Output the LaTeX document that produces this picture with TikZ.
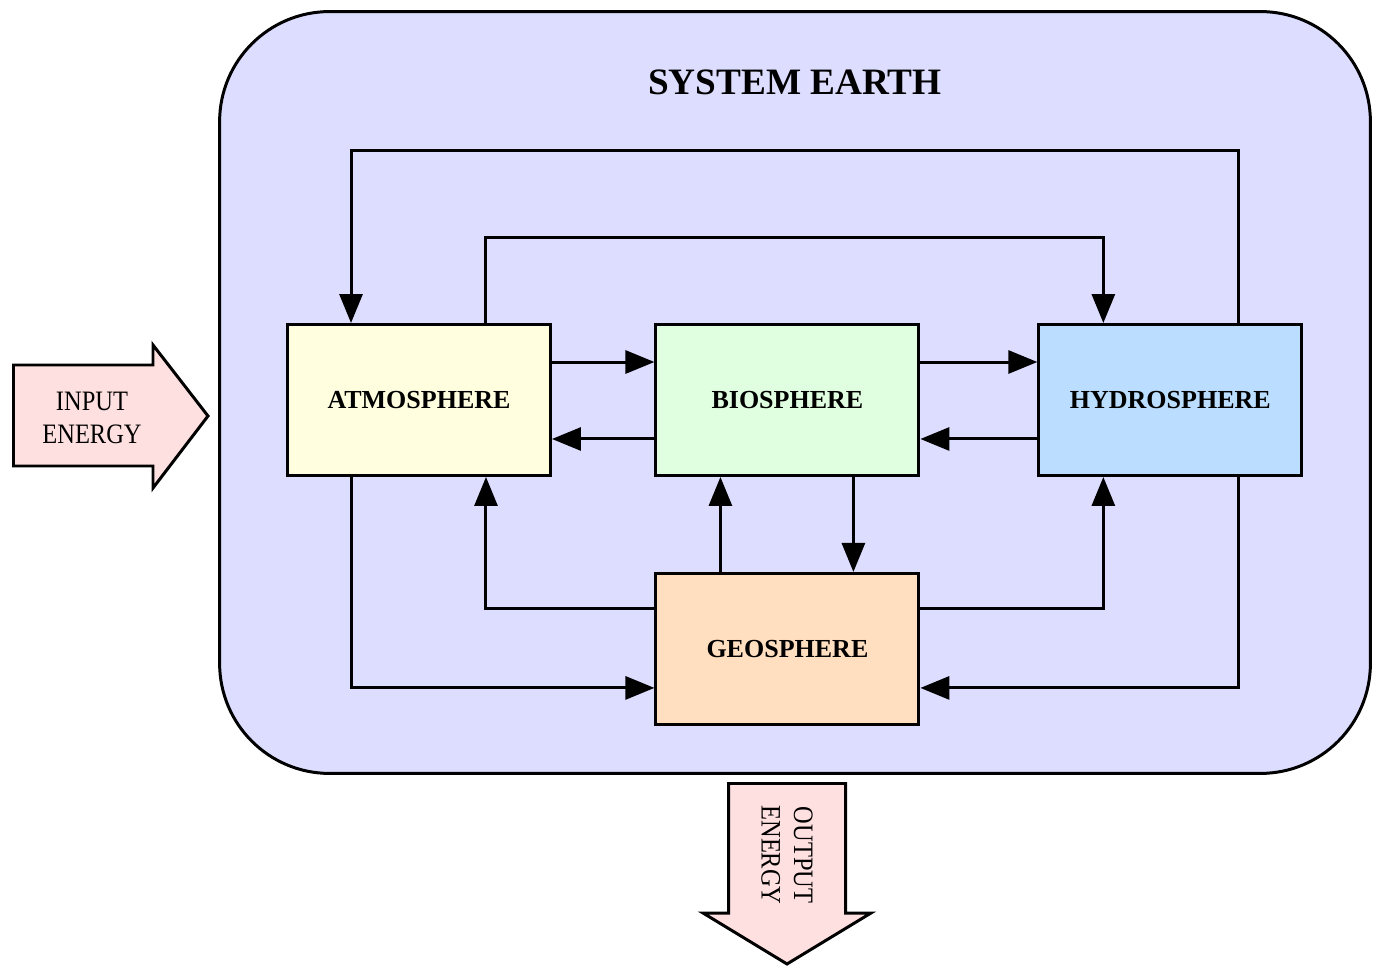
\documentclass[tikz,border=0pt]{standalone}
\usepackage{fontspec}
\setmainfont{Liberation Serif}
\newfontfamily\narrowserif[FakeStretch=0.87]{Liberation Serif}
\usetikzlibrary{arrows.meta, positioning}

\definecolor{earthfill}{HTML}{DDDDFF}
\definecolor{atmofill}{HTML}{FFFFE0}
\definecolor{biofill}{HTML}{E0FFE0}
\definecolor{hydrofill}{HTML}{BBDDFF}
\definecolor{geofill}{HTML}{FFDFBF}
\definecolor{energyfill}{HTML}{FFE0E0}

\begin{document}
\begin{tikzpicture}[x=0.02cm, y=-0.02cm, line width=1.7pt,
    sphere/.style={draw, rectangle, minimum width=5.26cm, minimum height=3.02cm,
        inner sep=0pt, font=\fontsize{14.8}{17}\selectfont\bfseries},
    flow/.style={-{Triangle[length=0.58cm, width=0.46cm]}},
    energy/.style={draw, fill=energyfill, line join=miter}]
    \useasboundingbox (0,0) rectangle (1379,969);

    \node (earth) [draw, fill=earthfill, rounded corners=2.2cm, minimum width=23.02cm,
        minimum height=15.24cm] at (795,392.5) {};
    \node (title) [font=\fontsize{21.2}{24}\selectfont\bfseries] at (795,82) {SYSTEM EARTH};

    \node (atmo) [sphere, fill=atmofill] at (419,400) {ATMOSPHERE};
    \node (bio) [sphere, fill=biofill, right=2.05cm of atmo] {BIOSPHERE};
    \node (hydro) [sphere, fill=hydrofill, right=2.34cm of bio] {HYDROSPHERE};
    \node (geo) [sphere, fill=geofill, below=1.9cm of bio] {GEOSPHERE};

    % side by side
    \draw[flow] ([yshift=0.76cm]atmo.east) -- ([yshift=0.76cm]bio.west);
    \draw[flow] ([yshift=-0.78cm]bio.west) -- ([yshift=-0.78cm]atmo.east);
    \draw[flow] ([yshift=0.76cm]bio.east) -- ([yshift=0.76cm]hydro.west);
    \draw[flow] ([yshift=-0.78cm]hydro.west) -- ([yshift=-0.78cm]bio.east);

    % over the top
    \draw[flow] ([xshift=1.36cm]hydro.north) -- ++(0,-173) -| ([xshift=-1.36cm]atmo.north);
    \draw[flow] ([xshift=1.34cm]atmo.north) -- ++(0,-86) -| ([xshift=-1.34cm]hydro.north);

    % down to the geosphere
    \draw[flow] ([xshift=1.32cm]bio.south) -- ([xshift=1.32cm]geo.north);
    \draw[flow] ([xshift=-1.34cm]geo.north) -- ([xshift=-1.34cm]bio.south);
    \draw[flow] ([yshift=0.8cm]geo.west) -| ([xshift=1.34cm]atmo.south);
    \draw[flow] ([yshift=0.8cm]geo.east) -| ([xshift=-1.34cm]hydro.south);
    \draw[flow] ([xshift=-1.36cm]atmo.south) |- ([yshift=-0.78cm]geo.west);
    \draw[flow] ([xshift=1.36cm]hydro.south) |- ([yshift=-0.78cm]geo.east);

    % energy in and out
    \draw[energy] (13.5,365) -- (153,365) -- (153,345) -- (208,416) -- (153,488)
        -- (153,466) -- (13.5,466) -- cycle;
    \node (input) [align=center, font=\narrowserif\fontsize{16}{18.5}\selectfont] at (92,418)
        {INPUT\\ENERGY};
    \draw[energy] (728.5,783.5) -- (845.5,783.5) -- (845.5,913) -- (871,913) -- (787,964)
        -- (703,913) -- (728.5,913) -- cycle;
    \node (output) [align=center, rotate=-90, font=\narrowserif\fontsize{16}{18.5}\selectfont]
        at (787,855) {OUTPUT\\ENERGY};
\end{tikzpicture}
\end{document}
